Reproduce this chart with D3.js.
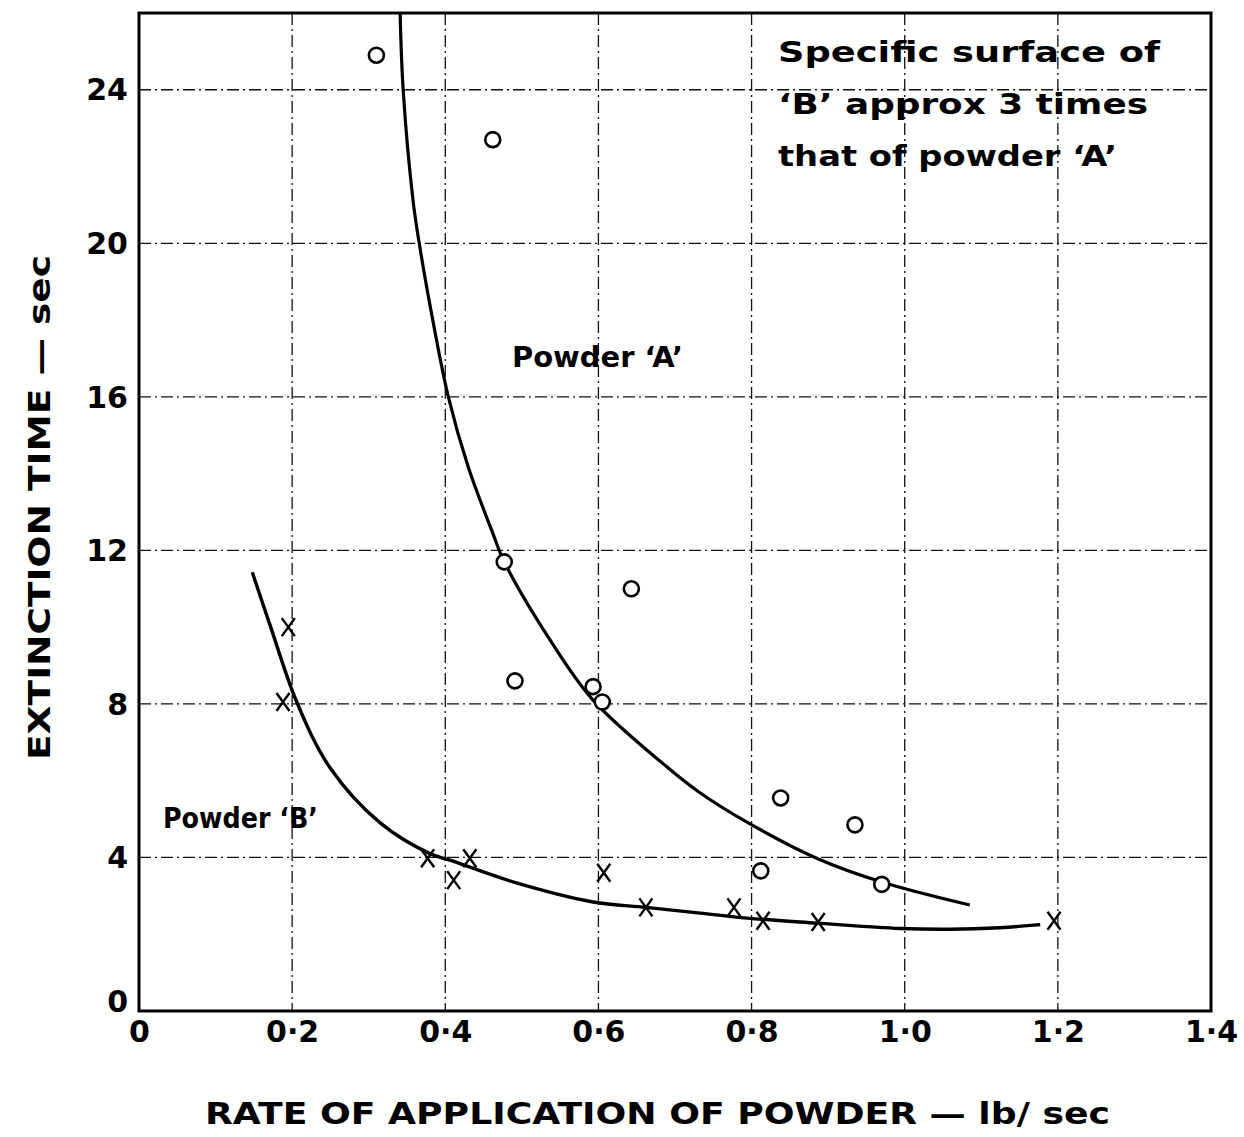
<!DOCTYPE html>
<html><head><meta charset="utf-8">
<script src="https://cdn.jsdelivr.net/npm/d3@7"></script>
<style>body{margin:0;background:#fff}</style>
</head><body>
<svg id="c" width="1244" height="1137"></svg>
<script>
// ---- data ----
const xTicks = [0, 0.2, 0.4, 0.6, 0.8, 1.0, 1.2, 1.4];
const xTickLabels = ["0", "0·2", "0·4", "0·6", "0·8", "1·0", "1·2", "1·4"];
const yTicks = [0, 4, 8, 12, 16, 20, 24];
const yTickLabels = ["0", "4", "8", "12", "16", "20", "24"];
const xGrid = [0.2, 0.4, 0.6, 0.8, 1.0, 1.2];
const yGrid = [4, 8, 12, 16, 20, 24];

// Powder A observations (circles)
const powderA_x = [0.310, 0.462, 0.477, 0.491, 0.593, 0.605, 0.643, 0.838, 0.935, 0.812, 0.970];
const powderA_y = [24.9, 22.7, 11.7, 8.6, 8.45, 8.05, 11.0, 5.55, 4.85, 3.65, 3.3];
// Powder B observations (crosses)
const powderB_x = [0.195, 0.188, 0.377, 0.411, 0.432, 0.607, 0.662, 0.777, 0.815, 0.887, 1.195];
const powderB_y = [10.0, 8.05, 3.98, 3.41, 3.98, 3.6, 2.7, 2.7, 2.35, 2.32, 2.35];

// Fitted curves
const curveA_x = [0.341, 0.345, 0.358, 0.366, 0.383, 0.404, 0.430, 0.462, 0.477, 0.537, 0.593, 0.69, 0.733, 0.794, 0.885, 0.970, 1.085];
const curveA_y = [26.0, 24.0, 21.1, 20.0, 18.07, 16.0, 14.17, 12.45, 11.7, 9.66, 8.1, 6.35, 5.68, 4.92, 3.98, 3.36, 2.76];
const curveB_x = [0.148, 0.172, 0.206, 0.249, 0.315, 0.38, 0.406, 0.494, 0.593, 0.662, 0.733, 0.794, 0.885, 0.994, 1.06, 1.124, 1.177];
const curveB_y = [11.43, 10.0, 8.05, 6.35, 4.9, 4.1, 3.93, 3.33, 2.84, 2.7, 2.55, 2.42, 2.29, 2.15, 2.13, 2.17, 2.25];

const noteLines = ["Specific  surface  of", "‘B’  approx  3  times", "that  of  powder ‘A’"];

// ---- layout ----
const svg = d3.select("#c");
const L = 139, R = 1211, T = 13, B = 1011;
const x = d3.scaleLinear().domain([0, 1.4]).range([L, R]);
const y = d3.scaleLinear().domain([0, 26]).range([B, T]);
const FONT = "'DejaVu Sans', sans-serif";

// grid
const g = svg.append("g").attr("stroke", "#111").attr("stroke-width", 1.3)
  .attr("stroke-dasharray", "12,4,2,4");
g.selectAll("line.v").data(xGrid).join("line").attr("class", "v")
  .attr("x1", d => x(d)).attr("x2", d => x(d)).attr("y1", T).attr("y2", B);
g.selectAll("line.h").data(yGrid).join("line").attr("class", "h")
  .attr("y1", d => y(d)).attr("y2", d => y(d)).attr("x1", L).attr("x2", R);

// frame
svg.append("rect").attr("x", L).attr("y", T).attr("width", R - L).attr("height", B - T)
  .attr("fill", "none").attr("stroke", "#000").attr("stroke-width", 3);

// axes
const xAxis = d3.axisBottom(x).tickValues(xTicks).tickSize(0).tickPadding(10)
  .tickFormat((d, i) => xTickLabels[i]);
const gx = svg.append("g").attr("transform", `translate(0,${B})`).call(xAxis);
gx.select(".domain").remove();
gx.selectAll("text").attr("font-family", FONT).attr("font-weight", "bold")
  .attr("font-size", 30).attr("fill", "#000");

const yAxis = d3.axisLeft(y).tickValues(yTicks).tickSize(0).tickPadding(11)
  .tickFormat((d, i) => yTickLabels[i]);
const gy = svg.append("g").attr("transform", `translate(${L},0)`).call(yAxis);
gy.select(".domain").remove();
gy.selectAll("text").attr("font-family", FONT).attr("font-weight", "bold")
  .attr("font-size", 30).attr("fill", "#000")
  .attr("dy", (d) => d === 0 ? "0.0em" : "0.34em");

// curves
const line = d3.line().x(d => x(d[0])).y(d => y(d[1])).curve(d3.curveCatmullRom.alpha(0.5));
svg.append("path").datum(d3.zip(curveA_x, curveA_y)).attr("d", line)
  .attr("fill", "none").attr("stroke", "#000").attr("stroke-width", 3.2);
svg.append("path").datum(d3.zip(curveB_x, curveB_y)).attr("d", line)
  .attr("fill", "none").attr("stroke", "#000").attr("stroke-width", 3.4);

// markers
svg.append("g").selectAll("circle").data(d3.zip(powderA_x, powderA_y)).join("circle")
  .attr("cx", d => x(d[0])).attr("cy", d => y(d[1])).attr("r", 7.5)
  .attr("fill", "#fff").attr("stroke", "#000").attr("stroke-width", 2.6);
const cross = svg.append("g").attr("stroke", "#000").attr("stroke-width", 2.4);
cross.selectAll("path").data(d3.zip(powderB_x, powderB_y)).join("path")
  .attr("d", d => {
    const cx = x(d[0]), cy = y(d[1]);
    return `M${cx-6.5},${cy-9}L${cx+6.5},${cy+9}M${cx+6.5},${cy-9}L${cx-6.5},${cy+9}`;
  });

// labels
function txt(s, px, py, opts = {}) {
  const t = svg.append("text").attr("x", px).attr("y", py).text(s)
    .attr("font-family", FONT).attr("font-weight", "bold")
    .attr("font-size", opts.size || 28).attr("fill", "#000");
  if (opts.len) t.attr("textLength", opts.len).attr("lengthAdjust", "spacingAndGlyphs");
  if (opts.anchor) t.attr("text-anchor", opts.anchor);
  if (opts.rot) t.attr("transform", `rotate(${opts.rot},${px},${py})`);
  return t;
}
const noteLens = [382, 370, 339];
noteLines.forEach((s, i) => txt(s, 778, 62 + i * 52, { len: noteLens[i], size: 28 }));
txt("Powder ‘A’", 512, 367, { len: 171, size: 28 });
txt("Powder ‘B’", 163, 828, { len: 155, size: 28 });

txt("RATE  OF  APPLICATION  OF  POWDER —  lb/ sec", 205, 1124, { len: 905, size: 30 });
txt("EXTINCTION  TIME —  sec", 50, 760, { len: 505, size: 30, rot: -90 });
</script>
</body></html>
